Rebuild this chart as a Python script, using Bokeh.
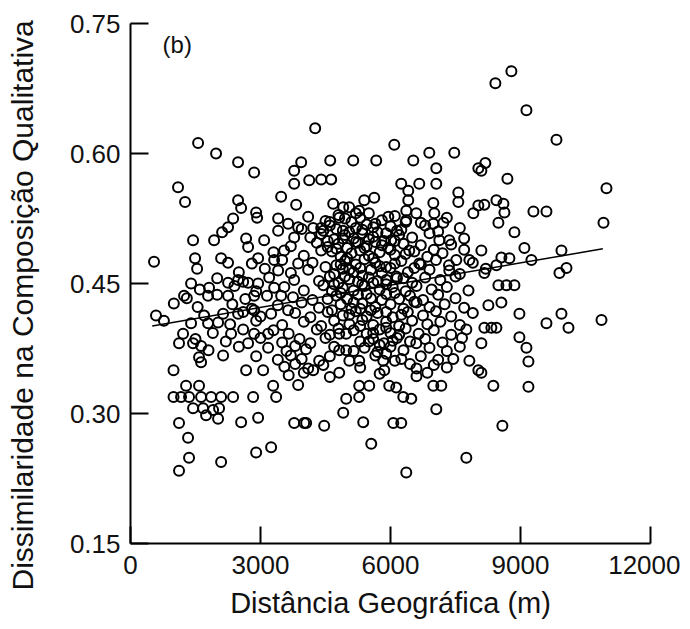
from bokeh.plotting import figure
from bokeh.models import FixedTicker, PrintfTickFormatter, Label, Range1d, Title
from bokeh.embed import file_html
from bokeh.resources import INLINE

# ---- data ----
x_ticks = [0, 3000, 6000, 9000, 12000]
y_ticks = [0.15, 0.30, 0.45, 0.60, 0.75]

distance_m = [
    1560, 1975, 2483, 2853, 1097, 1259, 3939, 3777, 3777, 3476, 3823, 2483, 2553, 2899, 2922, 2368,
    2252, 2114, 1929, 1444, 543, 1490, 1537, 2091, 2252, 2668, 2714, 2945, 3084, 3407, 3638, 3407,
    3869, 3777, 3546, 3315, 3407, 3869, 3777, 1398, 1813, 2252, 2483, 2714, 2945, 3315,
    4262, 6087, 4609, 5140, 5671, 6526, 6895, 7472, 7057, 8027, 4124, 4400, 4632, 6248, 6664, 7057,
    7565, 7565, 6410, 6410, 6364, 6364, 6595, 6988, 7011, 6988, 7219, 7126, 7357, 4678, 4909, 5047,
    5278, 5394, 5625, 4817, 7912, 8027, 4216, 4400, 5602, 6017, 6433, 6664, 7519, 7820, 7357, 6133, 5902,
    8790, 8420, 9137, 9830, 8189, 8097, 8698, 10984, 8166, 8444, 8606, 8629, 8490, 9298, 9599, 8860,
    10915, 8097, 8559, 8744, 8444, 9090, 9252, 9945, 9899, 10061, 8166, 8490, 8675, 8860,
    589, 771, 993, 1213, 1120, 1444, 1629, 1582, 1629, 2137, 2137, 2668, 3061, 3292, 3361, 2830,
    1282, 1582, 993, 1167, 1351, 1629, 1860, 2091, 2368, 1444, 1675, 1906, 2044, 1744, 2021, 1120,
    1328, 2553, 2945, 1351, 1120, 2091, 2899, 3245, 3777, 4008, 3869, 1790, 2021, 1398, 2714, 3176,
    2853, 3176, 2321, 2483, 2853, 3245, 3638, 1236, 1790, 2252, 2853, 3476,
    6595, 7449, 7820, 8027, 5856, 4817, 5278, 5509, 5971, 6133, 6295, 6480, 6988, 7172, 4978, 5278,
    4909, 5371, 4470, 4054, 6064, 6248, 7057, 5556, 7750, 6364, 4817, 4978, 5833, 5278, 4817, 4978,
    4354, 4216,
    8975, 9945, 10869, 9599, 10107, 8975, 9137, 9183, 8374, 9183, 8582, 8328, 8444, 8166, 8559, 8259,
    8097, 8097,
    4100, 4500, 4800, 5100, 5300, 5500, 5800, 6100, 6700, 7300,
    3950, 4600, 4900, 5200, 5450, 5700, 6000, 6250, 6800, 7100, 7600,
    4150, 4400, 4700, 4950, 5150, 5350, 5600, 5850, 6200, 6500, 6900, 7700,
    3700, 4300, 4550, 4800, 5000, 5250, 5450, 5650, 5950, 6300, 6700, 7000, 7400,
    3300, 4000, 4650, 4850, 5100, 5300, 5500, 5750, 6100, 6550, 6850, 7200, 7700,
    2800, 3500, 4200, 4750, 4950, 5200, 5400, 5650, 5900, 6250, 6700, 7050, 7350, 7900,
    2500, 3100, 3700, 4100, 4700, 4900, 5150, 5350, 5550, 5800, 6000, 6400, 6900, 7600, 8200,
    2000, 2600, 3200, 4350, 4600, 4800, 5050, 5250, 5500, 5700, 6150, 6500, 6800, 7150, 7500,
    1600, 2400, 2900, 3550, 4000, 4450, 4650, 4900, 5150, 5400, 5750, 6050, 6350, 6600, 6950, 7300, 7800,
    1300, 2000, 2650, 3150, 3750, 4200, 4750, 5000, 5250, 5550, 5900, 6200, 6450, 6750, 7100, 7500,
    1000, 1550, 2350, 2800, 3400, 3950, 4350, 4850, 5100, 5350, 5650, 6000, 6300, 6600, 6900, 7250, 7700,
    1700, 2600, 3000, 3800, 4150, 4550, 4900, 5200, 5450, 5700, 6050, 6400, 6750, 7050, 7400, 7900,
    2300, 2900, 3500, 4000, 4400, 4700, 5050, 5350, 5600, 5900, 6200, 6500, 6850, 7150, 7600,
    1900, 2600, 3300, 3650, 4300, 4600, 5150, 5450, 5750, 6000, 6350, 6650, 7000, 7400, 7750,
    1500, 2200, 3000, 3500, 3900, 4150, 4500, 5300, 5600, 5850, 6150, 6450, 6800, 7200, 7650,
    1800, 2500, 3600, 3800, 4050, 4700, 5150, 5400, 5700, 6000, 6300, 6900, 7300, 7600,
    2900, 3400, 3700, 3950, 4600, 5050, 5650, 6250, 6700, 7100,
    3550, 3800, 4100, 4450, 5300, 6450, 6600, 7000, 7300,
    3650, 4000, 4600, 5750, 6600, 6850,
    4600, 4950, 5200, 5650, 5950, 6350,
    4450, 4750, 5050, 5350, 5900, 6150,
    4550, 4900, 5200, 5500, 5800, 6100,
    4400, 4750, 5000, 5400, 5600, 6000, 6350,
    4500, 4850, 5050, 5300, 5750, 6100, 6550,
    4700, 4950, 5350, 5600, 5900, 6300,
    4550, 4850, 5150, 5450, 5800, 6100, 6550,
    4650, 5050, 5300, 5550, 5900, 6250,
    4800, 5300, 5600, 5900, 6200,
    5500, 5750, 6050, 5900, 6100,
]

dissimilarity = [
    0.612, 0.600, 0.590, 0.578, 0.561, 0.544, 0.590, 0.580, 0.565, 0.550, 0.541, 0.546, 0.537, 0.532, 0.526, 0.525,
    0.515, 0.509, 0.500, 0.500, 0.475, 0.479, 0.467, 0.479, 0.474, 0.502, 0.492, 0.479, 0.500, 0.525, 0.519, 0.511,
    0.515, 0.503, 0.488, 0.477, 0.465, 0.473, 0.454, 0.450, 0.445, 0.451, 0.454, 0.451, 0.450, 0.445,
    0.629, 0.610, 0.592, 0.592, 0.592, 0.592, 0.601, 0.601, 0.583, 0.583, 0.569, 0.570, 0.570, 0.565, 0.565, 0.565,
    0.555, 0.544, 0.557, 0.546, 0.534, 0.523, 0.531, 0.543, 0.531, 0.519, 0.520, 0.500, 0.500, 0.542, 0.538, 0.538,
    0.534, 0.546, 0.549, 0.526, 0.531, 0.540, 0.514, 0.514, 0.515, 0.500, 0.488, 0.473, 0.477, 0.477, 0.465, 0.458, 0.454,
    0.695, 0.681, 0.650, 0.616, 0.589, 0.580, 0.571, 0.560, 0.541, 0.546, 0.542, 0.532, 0.520, 0.533, 0.533, 0.509,
    0.520, 0.488, 0.480, 0.479, 0.471, 0.491, 0.477, 0.488, 0.462, 0.468, 0.462, 0.448, 0.448, 0.448,
    0.413, 0.407, 0.350, 0.392, 0.381, 0.381, 0.378, 0.365, 0.359, 0.367, 0.415, 0.350, 0.350, 0.332, 0.319, 0.319,
    0.332, 0.332, 0.319, 0.319, 0.319, 0.319, 0.319, 0.319, 0.319, 0.306, 0.306, 0.304, 0.306, 0.298, 0.294, 0.289,
    0.272, 0.290, 0.295, 0.249, 0.234, 0.244, 0.255, 0.261, 0.289, 0.289, 0.333, 0.404, 0.405, 0.404, 0.381, 0.376,
    0.392, 0.392, 0.392, 0.415, 0.419, 0.415, 0.419, 0.436, 0.436, 0.436, 0.436, 0.436,
    0.381, 0.363, 0.361, 0.350, 0.350, 0.347, 0.332, 0.332, 0.332, 0.330, 0.319, 0.317, 0.332, 0.332, 0.317, 0.319,
    0.301, 0.290, 0.286, 0.289, 0.289, 0.289, 0.305, 0.265, 0.249, 0.232, 0.392, 0.392, 0.361, 0.361, 0.373, 0.373,
    0.361, 0.350,
    0.415, 0.415, 0.408, 0.404, 0.399, 0.388, 0.376, 0.360, 0.332, 0.331, 0.286, 0.399, 0.399, 0.399, 0.428, 0.425,
    0.381, 0.347,
    0.527, 0.522, 0.529, 0.521, 0.526, 0.531, 0.523, 0.528, 0.520, 0.526,
    0.513, 0.517, 0.511, 0.514, 0.518, 0.509, 0.516, 0.512, 0.517, 0.510, 0.514,
    0.503, 0.507, 0.501, 0.506, 0.502, 0.508, 0.504, 0.499, 0.506, 0.503, 0.508, 0.502,
    0.493, 0.497, 0.492, 0.496, 0.491, 0.497, 0.493, 0.498, 0.491, 0.496, 0.494, 0.489, 0.495,
    0.486, 0.482, 0.487, 0.481, 0.485, 0.488, 0.482, 0.486, 0.483, 0.487, 0.481, 0.485, 0.489,
    0.473, 0.477, 0.474, 0.471, 0.476, 0.472, 0.478, 0.474, 0.469, 0.476, 0.472, 0.477, 0.471, 0.474,
    0.463, 0.467, 0.462, 0.466, 0.461, 0.467, 0.463, 0.459, 0.466, 0.462, 0.468, 0.463, 0.466, 0.461, 0.467,
    0.456, 0.452, 0.457, 0.453, 0.458, 0.451, 0.455, 0.452, 0.457, 0.453, 0.456, 0.451, 0.457, 0.454, 0.458,
    0.443, 0.447, 0.441, 0.446, 0.442, 0.448, 0.441, 0.445, 0.442, 0.447, 0.443, 0.446, 0.441, 0.447, 0.443, 0.446, 0.442,
    0.433, 0.437, 0.432, 0.436, 0.434, 0.431, 0.436, 0.432, 0.437, 0.433, 0.438, 0.432, 0.436, 0.431, 0.437, 0.433,
    0.427, 0.423, 0.426, 0.421, 0.425, 0.428, 0.422, 0.426, 0.421, 0.427, 0.423, 0.426, 0.421, 0.428, 0.423, 0.426, 0.422,
    0.413, 0.417, 0.412, 0.416, 0.411, 0.417, 0.413, 0.418, 0.412, 0.416, 0.411, 0.417, 0.413, 0.418, 0.412, 0.416,
    0.403, 0.407, 0.402, 0.406, 0.401, 0.407, 0.403, 0.408, 0.402, 0.406, 0.401, 0.407, 0.403, 0.406, 0.402,
    0.393, 0.397, 0.396, 0.392, 0.397, 0.391, 0.396, 0.392, 0.397, 0.393, 0.398, 0.392, 0.396, 0.391, 0.397,
    0.386, 0.383, 0.387, 0.382, 0.386, 0.381, 0.387, 0.383, 0.386, 0.381, 0.387, 0.383, 0.386, 0.382, 0.387,
    0.373, 0.377, 0.372, 0.378, 0.374, 0.377, 0.372, 0.376, 0.371, 0.377, 0.373, 0.376, 0.372, 0.377,
    0.366, 0.362, 0.367, 0.363, 0.366, 0.361, 0.367, 0.363, 0.366, 0.362,
    0.354, 0.357, 0.352, 0.356, 0.353, 0.357, 0.352, 0.356, 0.353,
    0.344, 0.347, 0.342, 0.346, 0.343, 0.347,
    0.521, 0.525, 0.531, 0.519, 0.527, 0.521,
    0.511, 0.513, 0.509, 0.512, 0.508, 0.511,
    0.499, 0.502, 0.498, 0.501, 0.494, 0.499,
    0.488, 0.490, 0.479, 0.491, 0.479, 0.489, 0.484,
    0.469, 0.472, 0.466, 0.468, 0.470, 0.473, 0.468,
    0.449, 0.458, 0.449, 0.451, 0.449, 0.456,
    0.432, 0.439, 0.428, 0.438, 0.431, 0.439, 0.429,
    0.419, 0.414, 0.421, 0.419, 0.417, 0.414,
    0.398, 0.401, 0.393, 0.399, 0.391,
    0.383, 0.379, 0.384, 0.369, 0.361,
]

# fitted regression line (end points)
fit_x = [500, 10900]
fit_y = [0.401, 0.490]

panel_tag = "(b)"
x_title = "Distância Geográfica (m)"
y_title = "Dissimilaridade na Composição Qualitativa"

FONT = "Liberation Sans"

p = figure(
    frame_width=520, frame_height=520,
    min_border_left=130, min_border_right=30, min_border_top=23, min_border_bottom=20,
    x_range=Range1d(0, 12000), y_range=Range1d(0.15, 0.75),
    output_backend="svg", toolbar_location=None,
)
p.outline_line_color = None
p.grid.visible = False
p.background_fill_color = "white"
p.border_fill_color = "white"

p.scatter(distance_m, dissimilarity, marker="circle", size=10,
          fill_color=None, line_color="black", line_width=2)
p.line(fit_x, fit_y, line_color="black", line_width=1.5)

for ax in (p.xaxis[0], p.yaxis[0]):
    ax.axis_line_width = 2
    ax.axis_line_color = "black"
    ax.major_tick_line_width = 2
    ax.major_tick_line_color = "black"
    ax.major_tick_out = 0
    ax.minor_tick_in = 0
    ax.minor_tick_out = 0
    ax.major_label_text_font = FONT
    ax.major_label_text_font_size = "26px"
    ax.major_label_text_color = "#111111"
    ax.axis_label_text_font = FONT
    ax.axis_label_text_font_size = "29px"
    ax.axis_label_text_font_style = "normal"
    ax.axis_label_text_color = "#111111"

p.xaxis[0].ticker = FixedTicker(ticks=x_ticks)
p.yaxis[0].ticker = FixedTicker(ticks=y_ticks)
p.xaxis[0].formatter = PrintfTickFormatter(format="%d")
p.yaxis[0].formatter = PrintfTickFormatter(format="%.2f")
p.xaxis[0].major_tick_in = 17
p.yaxis[0].major_tick_in = 18
p.xaxis[0].major_label_standoff = 12
p.yaxis[0].major_label_standoff = 10
p.xaxis[0].axis_label = x_title
p.xaxis[0].axis_label_standoff = 10

# blank y-axis label only reserves a little room between tick labels and the title
p.yaxis[0].axis_label = " "
p.yaxis[0].axis_label_text_font_size = "12px"
p.yaxis[0].axis_label_standoff = 8

# y title as a left-side title, starting below the frame bottom like in the reference
y_title_model = Title(text=y_title, align="left", offset=-47, standoff=6,
                      text_font=FONT, text_font_size="30px", text_font_style="normal",
                      text_color="#111111")
p.add_layout(y_title_model, "left")

p.add_layout(Label(x=740, y=0.726, text=panel_tag, text_font=FONT,
                   text_font_size="24px", text_baseline="middle", text_color="#111111"))

open("out.html", "w").write(file_html(p, INLINE))
